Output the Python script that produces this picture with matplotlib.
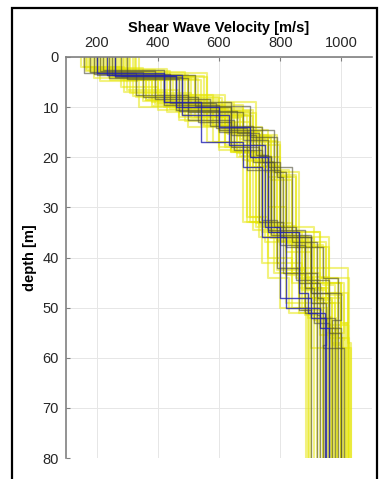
import numpy as np
import matplotlib
matplotlib.use("Agg")
import matplotlib.pyplot as plt
from matplotlib.patches import Rectangle

plt.rcParams['font.family'] = ['Liberation Sans', 'DejaVu Sans']

max_depth = 80.0

# layer interface depths [m] and shear wave velocities [m/s] (last value = half-space)
yellow_z = [
    [3, 8, 12, 18, 33, 43, 51], [4, 10, 15, 22, 36, 46, 55], [2, 7, 11, 17, 32, 41, 50],
    [3.5, 9.5, 14, 20, 37, 45, 53], [4.5, 11, 16, 23, 35, 44, 52], [3, 8.5, 13, 19, 34, 42, 50],
    [2.5, 6.5, 12.5, 19, 36, 48, 56], [4, 10, 14.5, 24, 38, 47, 57], [3.8, 9, 15.5, 21, 34, 43, 54],
    [2, 6, 10.5, 17, 33, 44, 51], [3.2, 10.5, 15.5, 23, 36, 45, 55], [4.2, 9.8, 13.5, 20, 35, 49, 58],
    [3, 7.5, 13, 19.5, 37, 46, 52], [2.8, 9.2, 15, 22, 34, 42, 53], [3.6, 11.5, 17, 24, 38, 47, 56],
    [4.8, 10, 14, 18.5, 32, 40, 50], [3.3, 7.5, 12, 20.5, 35.5, 44, 52.5], [2.2, 8.8, 12, 17.5, 33.5, 43, 51.5],
    [3.9, 10.2, 16, 21.5, 36.5, 48, 57], [4.4, 11, 15.8, 22.5, 37.5, 45.5, 54.5], [2.6, 9.4, 13.8, 19, 34.5, 41, 50.5],
    [3.1, 8.2, 14.2, 20, 35, 46.5, 53.5], [4.1, 10.8, 16.8, 23.5, 38, 49, 58], [3.4, 7.8, 12.8, 18, 33, 42.5, 51],
    [2.4, 9.6, 15.2, 21, 36, 44.5, 55.5], [3.7, 11.2, 16.2, 24.5, 37, 47.5, 56.5], [4.6, 9.0, 13.2, 19.2, 34, 43.5, 52],
    [2.9, 8.6, 14.8, 21.8, 35.8, 45, 54], [3.5, 10.4, 15.4, 22, 36.2, 48.5, 57.5], [4.3, 9.9, 14.6, 20.8, 33.8, 42, 50],
    [3.0, 8.0, 11.5, 16.5, 30, 39, 49], [3.9, 10.7, 16.4, 23, 35, 44, 53], [2.7, 7.2, 12.2, 19.8, 34.8, 46, 55],
    [4.0, 11.8, 17.5, 23.8, 37.2, 48, 58], [3.3, 9.1, 13.6, 18.8, 33.2, 45, 52.8], [4.5, 10.3, 15.0, 21.2, 36.8, 43.8, 51.8],
]
yellow_v = [
    [180, 330, 520, 620, 700, 780, 860, 900], [240, 450, 640, 700, 760, 880, 960, 1000], [150, 290, 430, 580, 690, 740, 800, 890],
    [270, 500, 680, 740, 800, 900, 1000, 1020], [320, 540, 700, 780, 820, 930, 990, 985], [200, 360, 560, 650, 720, 800, 880, 910],
    [170, 300, 470, 640, 730, 860, 960, 1010], [250, 420, 600, 760, 840, 950, 1020, 1030], [330, 520, 720, 760, 780, 840, 930, 980],
    [160, 280, 400, 560, 680, 760, 830, 885], [290, 560, 710, 790, 860, 960, 1010, 1000], [190, 380, 540, 660, 740, 820, 900, 950],
    [340, 490, 620, 700, 750, 880, 940, 970], [230, 440, 650, 730, 800, 910, 1020, 1015], [260, 480, 690, 800, 850, 960, 990, 1025],
    [210, 340, 500, 600, 700, 760, 840, 895], [280, 400, 580, 680, 770, 850, 910, 960], [175, 350, 470, 620, 730, 800, 880, 920],
    [300, 520, 680, 760, 790, 900, 970, 1000], [310, 530, 660, 770, 830, 940, 980, 990], [195, 390, 550, 640, 710, 790, 870, 940],
    [235, 370, 610, 700, 760, 870, 950, 1025], [265, 510, 700, 790, 850, 920, 980, 1015], [215, 320, 490, 600, 690, 790, 880, 930],
    [185, 430, 620, 720, 780, 870, 930, 985], [305, 550, 720, 770, 840, 950, 1010, 1005], [245, 380, 540, 660, 740, 820, 890, 945],
    [205, 360, 600, 740, 800, 890, 1000, 970], [255, 470, 630, 710, 770, 910, 970, 1000], [325, 500, 640, 690, 750, 850, 910, 955],
    [220, 410, 600, 700, 760, 820, 900, 1000], [275, 460, 670, 750, 810, 930, 1025, 1020], [165, 310, 510, 670, 760, 860, 950, 975],
    [295, 560, 710, 800, 820, 900, 1000, 1030], [225, 400, 580, 640, 720, 840, 920, 940], [285, 440, 620, 730, 790, 880, 960, 965],
]

gray_z = [
    [3.5, 9.5, 15, 20, 35, 45, 52], [4, 10, 14, 21, 36, 47, 55], [3, 8, 13, 18, 33, 43, 51],
    [4.2, 11, 16.5, 22, 37, 48, 58], [2.5, 9, 15.5, 19.5, 34.5, 46, 53], [3.8, 10.5, 14.5, 23, 38, 44, 56],
    [3.2, 7.5, 12.5, 18.5, 32.5, 42, 50.5], [3.6, 9.8, 16, 24, 36, 49, 57.5], [2.8, 8.4, 13.8, 21, 34, 44.5, 54],
    [4.4, 10.8, 15.2, 19.8, 35.5, 47, 52.5], [3.4, 9.2, 14.2, 22.5, 37.5, 43, 51.5],
]
gray_v = [
    [200, 420, 600, 700, 770, 860, 930, 980], [260, 480, 640, 740, 800, 900, 960, 1000], [180, 350, 530, 640, 730, 810, 880, 920],
    [240, 500, 680, 760, 840, 920, 940, 1010], [220, 420, 640, 720, 760, 880, 910, 960], [280, 460, 600, 780, 820, 940, 990, 990],
    [160, 330, 500, 650, 740, 790, 860, 900], [250, 520, 700, 790, 810, 900, 950, 940], [210, 390, 570, 710, 780, 850, 960, 1000],
    [300, 470, 660, 730, 770, 900, 1000, 970], [190, 440, 590, 690, 800, 880, 920, 930],
]

blue_z = [
    [3.6, 11.5, 17.5, 34, 48, 52], [3.2, 9, 17, 22, 36, 50, 54], [3.8, 10, 14, 20, 35, 47, 51],
]
blue_v = [
    [233, 480, 633, 750, 800, 900, 950], [200, 420, 540, 680, 740, 820, 930, 960], [260, 460, 600, 700, 760, 860, 890, 945],
]


def step_profile(z, v):
    # staircase: each velocity held from its layer top to its layer bottom
    tops = np.concatenate([[0.0], z])
    bots = np.concatenate([z, [max_depth]])
    vv = np.repeat(v, 2)
    dd = np.column_stack([tops, bots]).ravel()
    return vv, dd


fig = plt.figure(figsize=(3.8, 4.79), dpi=100)
ax = fig.add_axes([66/380, 21/479, 306/380, 401/479])

for z, v in zip(yellow_z, yellow_v):
    x, y = step_profile(z, v)
    ax.plot(x, y, color=(0.9, 0.9, 0.0), alpha=0.5, lw=1.5)
for z, v in zip(gray_z, gray_v):
    x, y = step_profile(z, v)
    ax.plot(x, y, color=(0.3, 0.3, 0.22), alpha=0.6, lw=1.0)
for z, v in zip(blue_z, blue_v):
    x, y = step_profile(z, v)
    ax.plot(x, y, color=(0.12, 0.12, 0.7), alpha=0.8, lw=1.0)

ax.set_xlim(100, 1100)
ax.set_ylim(80, 0)
ax.set_xticks([200, 400, 600, 800, 1000])
ax.set_yticks(np.arange(0, 81, 10))
ax.xaxis.tick_top()
ax.xaxis.set_label_position('top')
ax.set_xlabel('Shear Wave Velocity [m/s]', fontsize=10.5, fontweight='bold', labelpad=3)
ax.set_ylabel('depth [m]', fontsize=10.5, fontweight='bold', labelpad=4)
ax.tick_params(direction='in', length=3, width=0.8, colors=(0.5, 0.5, 0.5),
               labelcolor=(0.15, 0.15, 0.15), labelsize=10.5, pad=5)
ax.grid(True, color=(0.9, 0.9, 0.9), lw=0.7)
ax.set_axisbelow(True)
for s in ['right', 'bottom']:
    ax.spines[s].set_visible(False)
for s in ['top', 'left']:
    ax.spines[s].set_color((0.5, 0.5, 0.5))
    ax.spines[s].set_linewidth(1.2)

# black frame around the figure (open at the bottom)
fig.patches.append(Rectangle((11.5/380, -0.05), 365/380, 1.05 - 7.5/479, transform=fig.transFigure,
                             fill=False, ec='black', lw=1.6))

fig.savefig('out.png', dpi=100)
